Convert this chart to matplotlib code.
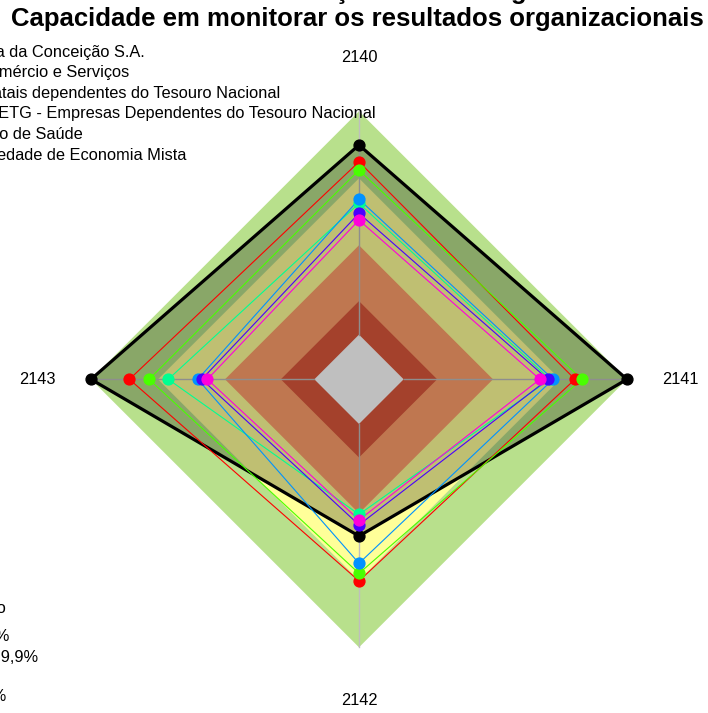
import numpy as np
import matplotlib
matplotlib.use("Agg")
import matplotlib.pyplot as plt

# ---------------- data ----------------
title_lines = ["Resultado da Autoavaliação da Estratégia da Unidade",
               "Capacidade em monitorar os resultados organizacionais"]
axis_labels = ["2140", "2141", "2142", "2143"]

series_names = ["Média Geral",
                "Hospital Nossa Senhora da Conceição S.A.",
                "Empresas de Comércio e Serviços",
                "Empresas Estatais dependentes do Tesouro Nacional",
                "Grupo ETG - Empresas Dependentes do Tesouro Nacional",
                "Empresas do Segmento de Saúde",
                "Sociedade de Economia Mista"]
series_colors = ["#FF0000", "#000000", "#49FF00", "#00FF92",
                 "#0092FF", "#4900FF", "#FF00DB"]

# values in % for axes 2140, 2141, 2142, 2143
media_geral = [77.4, 76.7, 70.3, 82.8]
hnsc = [84.9, 100.0, 50.2, 100.0]
comercio_servicos = [73.7, 79.8, 66.9, 74.0]
estatais_dependentes = [58.8, 65.5, 40.5, 65.4]
grupo_etg = [60.6, 66.9, 62.4, 52.2]
segmento_saude = [54.3, 64.6, 45.2, 50.4]
economia_mista = [51.3, 61.0, 43.0, 47.9]
series_values = [media_geral, hnsc, comercio_servicos, estatais_dependentes,
                 grupo_etg, segmento_saude, economia_mista]

level_limits = [0, 15, 40, 70, 100]
level_colors = ["#FFFFFF", "#DC573C", "#FFA06B", "#FFFF99", "#B8E08C"]
level_title = "Classificação"
level_labels = ["Inexpressivo: 0% a 14,9%", "Iniciando: 15% a 39,9%",
                "Intermediário: 40% a 70%", "Aprimorado: 70,1% a 100%"]

# ---------------- layout ----------------
W, H = 708, 713
CX, CY, R = 359.0, 379.3, 268.0
FONT = "Liberation Sans"
FS = 11.8
TFS = 18.5

fig = plt.figure(figsize=(W / 100, H / 100), dpi=100)
ax = fig.add_axes([0, 0, 1, 1])
ax.set_xlim(-CX / R, (W - CX) / R)
ax.set_ylim(-(H - CY) / R, CY / R)
ax.axis("off")

n = len(axis_labels)
theta = np.pi / 2 - np.arange(n) * 2 * np.pi / n   # clockwise from top


def radius(v):
    v = np.asarray(v, dtype=float)
    return 1 / 6 + (v / 100.0) * 5 / 6


def xy(vals):
    r = radius(vals)
    return r * np.cos(theta), r * np.sin(theta)


# level bands (outer to inner)
for lim, col in sorted(zip(level_limits, level_colors), reverse=True):
    x, y = xy([lim] * n)
    ax.fill(x, y, color=col, lw=0, zorder=1)

# axis lines
for t in theta:
    ax.plot([np.cos(t) / 6, np.cos(t)], [np.sin(t) / 6, np.sin(t)],
            color="#BEBEBE", lw=1, zorder=2)

# axis labels
for lab, t in zip(axis_labels, theta):
    ax.text(1.2 * np.cos(t), 1.2 * np.sin(t), lab, ha="center", va="center",
            fontsize=FS, family=FONT, zorder=6)

# series
for name, col, vals in zip(series_names, series_colors, series_values):
    x, y = xy(vals)
    xc, yc = np.append(x, x[0]), np.append(y, y[0])
    if col == "#000000":
        ax.fill(x, y, color="black", alpha=0.25, lw=0, zorder=3)
        ax.plot(xc, yc, color="black", lw=2.3, zorder=3.5,
                solid_joinstyle="miter")
        ax.plot(x, y, "o", color="black", ms=7.8, zorder=5)
    else:
        ax.plot(xc, yc, color=col, lw=0.8, zorder=4)
        ax.plot(x, y, "o", color=col, ms=7.8, zorder=5)


def fx(px):
    return px / W


def fy(py):
    return 1 - py / H


renderer = fig.canvas.get_renderer()


def text_w(s, **kw):
    t = fig.text(0, 0, s, **kw)
    w = t.get_window_extent(renderer).width
    t.remove()
    return w


# title: first line lies almost entirely above the image
tkw = dict(fontsize=TFS, fontweight="bold", family=FONT)
line1 = title_lines[0]
k = line1.index("ç")
x0 = 342 - (text_w(line1[:k + 1], **tkw) - text_w("ç", **tkw) / 2)
fig.text(fx(x0), fy(-1.5), line1, ha="left", va="baseline", **tkw)
fig.text(fx(357.5), fy(26.3), title_lines[1], ha="center", va="baseline",
         **tkw)

# series legend (cut at the left edge)
leg_ends = [-6, 145, 129.5, 280, 376, 83, 186]
leg_base = [35.9, 56.5, 77.1, 97.7, 118.3, 138.9, 159.5]
for name, xe, yb in zip(series_names, leg_ends, leg_base):
    fig.text(fx(xe), fy(yb), name, ha="right", va="baseline",
             fontsize=FS, family=FONT)

# level legend (cut at the left edge)
lev_texts = [level_title] + level_labels
lev_ends = [6, 9, 37.8, -6, 6.5]
lev_base = [613.5, 640.5, 661.5, 681.5, 701.5]
for txt, xe, yb in zip(lev_texts, lev_ends, lev_base):
    fig.text(fx(xe), fy(yb), txt, ha="right", va="baseline",
             fontsize=FS, family=FONT)

fig.savefig("out.png", dpi=100)
